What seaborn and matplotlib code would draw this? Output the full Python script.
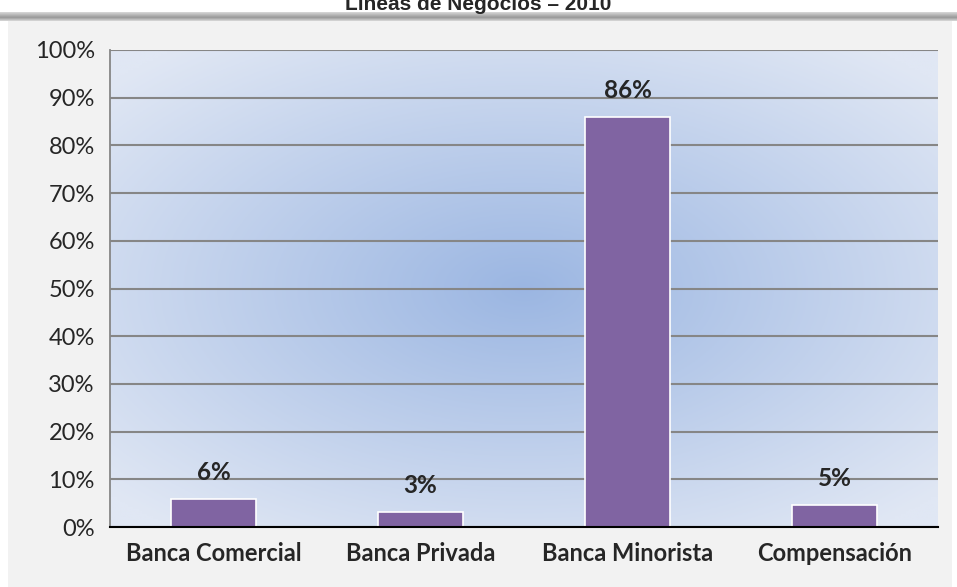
import numpy as np
import pandas as pd
import seaborn as sns
import matplotlib.pyplot as plt
from matplotlib.ticker import PercentFormatter

# data
categorias = ["Banca Comercial", "Banca Privada", "Banca Minorista", "Compensación"]
valores = [0.058, 0.031, 0.86, 0.046]
titulo = "Líneas de Negocios – 2010"

df = pd.DataFrame({"linea": categorias, "valor": valores})

sns.set_style("white")
plt.rcParams["font.family"] = ["Lato", "DejaVu Sans"]

fig = plt.figure(figsize=(9.57, 5.87), dpi=100)
W, H = 957, 587

# grey panel + top shadow
panel = fig.add_axes([8 / W, 0, (952 - 8) / W, (587 - 20) / H])
panel.set_facecolor("#f2f2f2")
panel.set_xticks([]); panel.set_yticks([])
for s in panel.spines.values():
    s.set_visible(False)
shadow = fig.add_axes([0, (587 - 21) / H, 1, 9 / H])
grad = np.concatenate([np.linspace(0.85, 0.6, 30), np.linspace(0.6, 0.85, 20)]).reshape(-1, 1)
shadow.imshow(np.repeat(grad, 10, axis=1), cmap="gray", vmin=0, vmax=1,
              aspect="auto", extent=[0, 1, 0, 1])
shadow.axis("off")

fig.text(0.5, 577 / H, titulo, ha="center", va="baseline", fontsize=15,
         fontweight="bold", family=["Liberation Sans", "DejaVu Sans"])

ax = fig.add_axes([110 / W, (587 - 527) / H, 828 / W, 477 / H])

# radial gradient background
gx, gy = np.meshgrid(np.linspace(-1, 1, 300), np.linspace(-1, 1, 200))
r = np.clip(np.sqrt((gx * 1.0) ** 2 + (gy * 1.05) ** 2) / 1.35, 0, 1)
c0 = np.array([0x9b, 0xb6, 0xe2]) / 255
c1 = np.array([0xe0, 0xe7, 0xf4]) / 255
img = c0[None, None, :] + (c1 - c0)[None, None, :] * r[..., None]
ax.imshow(img, extent=[-0.5, 3.5, 0, 1], aspect="auto", zorder=0)

sns.barplot(data=df, x="linea", y="valor", color="#8064a2", width=0.41,
            edgecolor="white", linewidth=1.2, saturation=1, ax=ax, zorder=3)

ax.set_xlim(-0.5, 3.5)
ax.set_ylim(0, 1)
ax.set_yticks(np.arange(0, 1.01, 0.1))
ax.yaxis.set_major_formatter(PercentFormatter(1.0, decimals=0))
ax.grid(axis="y", color="#868686", linewidth=1.5, zorder=1)
ax.set_axisbelow(False)
for ln in ax.get_ygridlines():
    ln.set_zorder(1)
ax.set_xlabel("")
ax.set_ylabel("")

ax.set_xticks(range(len(categorias)))
ax.set_xticklabels(categorias, fontsize=17, fontweight="bold")
ax.tick_params(axis="x", length=0, pad=11)
ax.set_xticks(np.arange(0.5, 3.6, 1), minor=True)
ax.tick_params(axis="x", which="minor", length=9, width=1.3, color="black", direction="out")
ax.tick_params(axis="y", labelsize=17, length=5, width=1.3, color="#868686",
               direction="out", pad=6)
ax.tick_params(axis="x", which="major", bottom=False)

for s in ["top", "right"]:
    ax.spines[s].set_visible(False)
ax.spines["left"].set_color("#868686")
ax.spines["left"].set_linewidth(1.3)
ax.spines["bottom"].set_color("black")
ax.spines["bottom"].set_linewidth(1.5)
ax.spines["bottom"].set_zorder(5)

for i, v in enumerate(valores):
    ax.annotate(f"{v:.0%}", (i, v), xytext=(0, 19), textcoords="offset points",
                ha="center", va="center", fontsize=17.5, fontweight="bold")

fig.savefig("out.png", dpi=100)
